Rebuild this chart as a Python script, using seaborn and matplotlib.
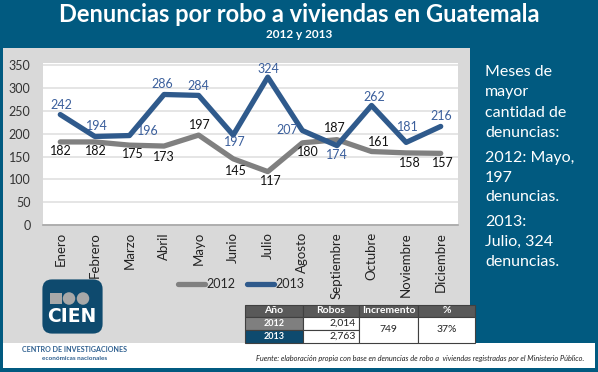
import numpy as np
import pandas as pd
import seaborn as sns
import matplotlib.pyplot as plt
import matplotlib.patches as mpatches
from matplotlib.lines import Line2D

# data
meses = ['Enero', 'Febrero', 'Marzo', 'Abril', 'Mayo', 'Junio', 'Julio',
         'Agosto', 'Septiembre', 'Octubre', 'Noviembre', 'Diciembre']
robos_2012 = [182, 182, 175, 173, 197, 145, 117, 180, 187, 161, 158, 157]
robos_2013 = [242, 194, 196, 286, 284, 197, 324, 207, 174, 262, 181, 216]

tabla_anios = ['2012', '2013']
tabla_robos = ['2,014', '2,763']
tabla_incremento = '749'
tabla_pct = '37%'

W, H = 598, 372
BLUE_BG = '#015a80'
DARK_BLUE = '#0e4a6e'
LINE_BLUE = '#2f5a8c'
TEXT_BLUE = '#3b5f9c'
GREY = '#808080'

sns.set_theme(style='white')
plt.rcParams['font.family'] = ['Lato', 'DejaVu Sans']

fig = plt.figure(figsize=(W / 100, H / 100), dpi=100)
fig.patch.set_facecolor(BLUE_BG)


def fx(px):
    return px / W


def fy(py):
    return 1 - py / H


# grey panel and white footer (behind the axes)
fig.patches.append(mpatches.Rectangle((fx(3), fy(343)), fx(467), 295 / H,
                                      transform=fig.transFigure, facecolor='#d9d9d9',
                                      edgecolor='none', zorder=-5))
fig.patches.append(mpatches.Rectangle((fx(3), fy(368)), fx(592), 25 / H,
                                      transform=fig.transFigure, facecolor='white',
                                      edgecolor='none', zorder=-5))

# titles
fig.text(0.5, fy(15), 'Denuncias por robo a viviendas en Guatemala', color='white',
         fontsize=17, fontweight='bold', ha='center', va='center')
fig.text(0.5, fy(35), '2012 y 2013', color='white', fontsize=8.5,
         fontweight='bold', ha='center', va='center')

# main chart
ax = fig.add_axes([fx(43), fy(225), fx(415), (225 - 63) / H])
ax.set_facecolor('white')

df = pd.DataFrame({'mes': meses * 2,
                   'robos': robos_2012 + robos_2013,
                   'anio': ['2012'] * 12 + ['2013'] * 12})
sns.lineplot(data=df, x='mes', y='robos', hue='anio', sort=False,
             palette={'2012': GREY, '2013': LINE_BLUE}, linewidth=3.8,
             legend=False, ax=ax)

ax.set_ylim(0, 355)
ax.set_xlim(-0.5, 11.5)
ax.set_yticks(range(0, 351, 50))
ax.yaxis.grid(True, color='#e0e0e0', linewidth=1.2)
ax.set_axisbelow(True)
for s in ['top', 'right', 'left']:
    ax.spines[s].set_visible(False)
ax.spines['bottom'].set_color('#a6a6a6')
ax.spines['bottom'].set_linewidth(1.2)
ax.tick_params(axis='y', labelsize=9, colors='#333333', length=0, pad=9)
ax.tick_params(axis='x', labelsize=9.5, colors='#222222', length=0, pad=5)
plt.setp(ax.get_xticklabels(), rotation=90)
ax.set_xlabel('')
ax.set_ylabel('')

# data labels (offsets in pixels)
off_2012 = [(1, -9), (1, -9), (3, -9), (0, -11), (1, 10), (3, -12), (3, -9),
            (5, -9), (-2, 12), (7, 10), (4, -10), (2, -10)]
off_2013 = [(1, 10), (2, 10), (18, 5), (-2, 10), (0, 9), (2, -7), (1, 8),
            (-15, 1), (0, -9), (3, 8), (2, 15), (1, 10)]
for i, (v, o) in enumerate(zip(robos_2012, off_2012)):
    ax.annotate(str(v), (i, v), xytext=o, textcoords='offset pixels',
                ha='center', va='center', fontsize=9, color='#111111')
for i, (v, o) in enumerate(zip(robos_2013, off_2013)):
    ax.annotate(str(v), (i, v), xytext=o, textcoords='offset pixels',
                ha='center', va='center', fontsize=9, color=TEXT_BLUE)

# legend
handles = [Line2D([], [], color=GREY, linewidth=3.8, solid_capstyle='round'),
           Line2D([], [], color=LINE_BLUE, linewidth=3.8, solid_capstyle='round')]
fig.legend(handles, ['2012', '2013'], loc='center', bbox_to_anchor=(fx(241), fy(284)),
           ncol=2, frameon=False, fontsize=9, handlelength=2.2, handletextpad=0.1,
           columnspacing=0.9, borderpad=0, borderaxespad=0)

# logo
fig.patches.append(mpatches.FancyBboxPatch((fx(46), fy(330)), fx(53), 47 / H,
                                           boxstyle='round,pad=0.006,rounding_size=0.016',
                                           transform=fig.transFigure, facecolor=DARK_BLUE,
                                           edgecolor='none', mutation_aspect=W / H))
fig.patches.append(mpatches.Rectangle((fx(50), fy(304)), fx(12), 11 / H,
                                      transform=fig.transFigure, facecolor='#a8a8a8',
                                      edgecolor='none'))
for cx in (69, 83):
    fig.patches.append(mpatches.Ellipse((fx(cx), fy(298.5)), fx(12.5), 12.5 / H,
                                        transform=fig.transFigure, facecolor='#a8a8a8',
                                        edgecolor='none'))
fig.text(fx(72), fy(316), 'CIEN', color='white', fontsize=13.5, fontweight='black',
         ha='center', va='center', family=['DejaVu Sans'])

# footer
fig.text(fx(75), fy(350), 'CENTRO DE INVESTIGACIONES', color='#2d5f8f', fontsize=5.1,
         fontweight='bold', ha='center', va='center')
fig.text(fx(75), fy(358.5), 'económicas nacionales', color='#2d5f8f', fontsize=4.6,
         fontweight='bold', ha='center', va='center')
fig.text(fx(584), fy(358), 'Fuente: elaboración propia con base en denuncias de robo a  '
         'viviendas registradas por el Ministerio Público.', color='#222222',
         fontsize=5.3, style='italic', ha='right', va='center')

# summary table
tab = fig.add_axes([fx(245), fy(343), fx(230), 38 / H])
tab.set_xlim(245, 475)
tab.set_ylim(343, 305)
tab.axis('off')
cols = [245, 303, 359, 418, 475]
rows = [305, 317, 330, 343]
headers = ['Año', 'Robos', 'Incremento', '%']
for j, h in enumerate(headers):
    tab.add_patch(mpatches.Rectangle((cols[j], rows[0]), cols[j + 1] - cols[j], rows[1] - rows[0],
                                     facecolor='#595959', edgecolor='#404040', linewidth=0.8,
                                     clip_on=False))
    tab.text((cols[j] + cols[j + 1]) / 2, (rows[0] + rows[1]) / 2, h, color='white',
             fontsize=7.5, fontweight='bold', ha='center', va='center')
year_colors = ['#7f7f7f', DARK_BLUE]
for r, (anio, rob) in enumerate(zip(tabla_anios, tabla_robos)):
    y0, y1 = rows[r + 1], rows[r + 2]
    tab.add_patch(mpatches.Rectangle((cols[0], y0), cols[1] - cols[0], y1 - y0,
                                     facecolor=year_colors[r], edgecolor='#404040',
                                     linewidth=0.8, clip_on=False))
    tab.text((cols[0] + cols[1]) / 2, (y0 + y1) / 2, anio, color='white', fontsize=6.5,
             fontweight='bold', ha='center', va='center')
    tab.add_patch(mpatches.Rectangle((cols[1], y0), cols[2] - cols[1], y1 - y0,
                                     facecolor='white', edgecolor='#404040', linewidth=0.8,
                                     clip_on=False))
    tab.text(cols[2] - 3, (y0 + y1) / 2, rob, color='#222222', fontsize=7.5,
             ha='right', va='center')
for j, val in ((2, tabla_incremento), (3, tabla_pct)):
    tab.add_patch(mpatches.Rectangle((cols[j], rows[1]), cols[j + 1] - cols[j], rows[3] - rows[1],
                                     facecolor='white', edgecolor='#404040', linewidth=0.8,
                                     clip_on=False))
    tab.text((cols[j] + cols[j + 1]) / 2, (rows[1] + rows[3]) / 2, val, color='#222222',
             fontsize=7.5, ha='center', va='center')

# side note
nota = [('Meses de', 72), ('mayor', 92), ('cantidad de', 113), ('denuncias:', 133),
        ('2012: Mayo,', 158), ('197', 178), ('denuncias.', 197),
        ('2013:', 222), ('Julio, 324', 242), ('denuncias.', 262)]
for txt, py in nota:
    fig.text(fx(485), fy(py), txt, color='white', fontsize=11.5, ha='left', va='center')

fig.savefig('out.png', dpi=100, facecolor=fig.get_facecolor())
